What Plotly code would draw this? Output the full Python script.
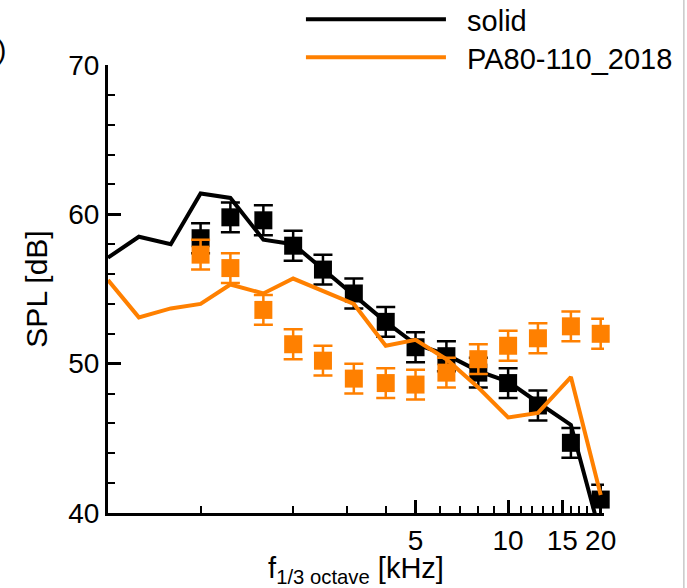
import numpy as np
import plotly.graph_objects as go

# 1/3-octave band centre frequencies [kHz]
freq_line = [0.5, 0.63, 0.8, 1.0, 1.25, 1.6, 2.0, 2.5, 3.15, 4.0, 5.0, 6.3, 8.0, 10.0, 12.5, 16.0, 20.0]
freq_pts = [1.0, 1.25, 1.6, 2.0, 2.5, 3.15, 4.0, 5.0, 6.3, 8.0, 10.0, 12.5, 16.0, 20.0]

# computed spectra [dB]
solid_line = [57.1, 58.5, 58.0, 61.4, 61.1, 58.3, 58.0, 56.3, 54.6, 52.8, 51.3, 50.6, 49.5, 48.8, 47.4, 45.9, 38.5]
pa_line = [55.6, 53.1, 53.7, 54.0, 55.3, 54.7, 55.7, 54.9, 54.0, 51.2, 51.6, 50.3, 48.4, 46.4, 46.7, 49.1, 41.2]

# measured spectra [dB] with uncertainty
solid_pts = [58.4, 59.8, 59.6, 57.9, 56.3, 54.7, 52.8, 51.1, 50.5, 49.4, 48.7, 47.2, 44.7, 40.9]
pa_pts = [57.3, 56.4, 53.6, 51.3, 50.2, 49.0, 48.7, 48.6, 49.4, 50.3, 51.2, 51.7, 52.5, 52.0]
solid_err = [1.0] * len(freq_pts)
pa_err = [1.0] * len(freq_pts)

x_major = [5, 10, 15, 20]
x_minor = [1, 2, 3, 4, 6, 7, 8, 9, 11, 12, 13, 14, 16, 17, 18, 19]

BLACK = "#000000"
ORANGE = "#ff8000"
FONT = "Liberation Sans"
GAP = "\u00a0" * 2  # spacing between legend line and label

fig = go.Figure()

fig.add_trace(go.Scatter(x=freq_line, y=solid_line, mode="lines", name=GAP + "solid",
                         line=dict(color=BLACK, width=4), legend="legend"))
fig.add_trace(go.Scatter(x=freq_pts, y=solid_pts, mode="markers", showlegend=False,
                         marker=dict(symbol="square", size=18, color=BLACK, line=dict(width=0)),
                         error_y=dict(type="data", array=solid_err, color=BLACK, thickness=2.5, width=9.5),
                         cliponaxis=False))
fig.add_trace(go.Scatter(x=freq_line, y=pa_line, mode="lines", name=GAP + "PA80-110_2018",
                         line=dict(color=ORANGE, width=4), legend="legend2"))
fig.add_trace(go.Scatter(x=freq_pts, y=pa_pts, mode="markers", showlegend=False,
                         marker=dict(symbol="square", size=18, color=ORANGE, line=dict(width=0)),
                         error_y=dict(type="data", array=pa_err, color=ORANGE, thickness=2.5, width=9.5),
                         cliponaxis=False))

fig.update_xaxes(
    type="log", range=[np.log10(0.5), np.log10(20.5)],
    showline=True, linecolor=BLACK, linewidth=3, mirror=False,
    showgrid=False, zeroline=False,
    tickmode="array", tickvals=x_major, ticktext=[str(v) for v in x_major],
    ticks="inside", ticklen=13, tickwidth=3, tickcolor=BLACK,
    tickfont=dict(family=FONT, size=28, color=BLACK),
    minor=dict(tickmode="array", tickvals=x_minor, ticks="inside", ticklen=7,
               tickwidth=2, tickcolor=BLACK, showgrid=False),
    title=dict(text="f<sub>1/3 octave</sub> [kHz]", font=dict(family=FONT, size=29, color=BLACK), standoff=10),
)
fig.update_yaxes(
    range=[40, 70],
    showline=True, linecolor=BLACK, linewidth=3, mirror=False,
    showgrid=False, zeroline=False,
    tickmode="linear", tick0=40, dtick=10,
    ticks="inside", ticklen=13, tickwidth=3, tickcolor=BLACK,
    tickfont=dict(family=FONT, size=28, color=BLACK),
    minor=dict(dtick=2, ticks="inside", ticklen=7, tickwidth=2, tickcolor=BLACK, showgrid=False),
    title=dict(text="SPL [dB]", font=dict(family=FONT, size=30, color=BLACK), standoff=12),
)

legend_style = dict(xanchor="left", yanchor="top", bgcolor="rgba(0,0,0,0)", borderwidth=0,
                    itemwidth=140, font=dict(family=FONT, size=29, color=BLACK))

fig.update_layout(
    width=687, height=588,
    margin=dict(l=108, r=83, t=65, b=75, autoexpand=False),
    plot_bgcolor="white", paper_bgcolor="white",
    font=dict(family=FONT, size=28, color=BLACK),
    showlegend=True,
    legend=dict(x=0.389, y=1.1585, **legend_style),
    legend2=dict(x=0.389, y=1.0737, **legend_style),
    shapes=[dict(type="line", xref="paper", yref="paper",
                 x0=1.161, x1=1.161, y0=-75 / 448, y1=1 + 65 / 448,
                 line=dict(color="#c8c8c8", width=1.5))],
    annotations=[dict(text="(b)", xref="paper", yref="paper", x=-0.2016, y=1.0335,
                      xanchor="right", yanchor="middle", showarrow=False,
                      font=dict(family=FONT, size=28, color=BLACK))],
)

fig.write_html("out.html")
